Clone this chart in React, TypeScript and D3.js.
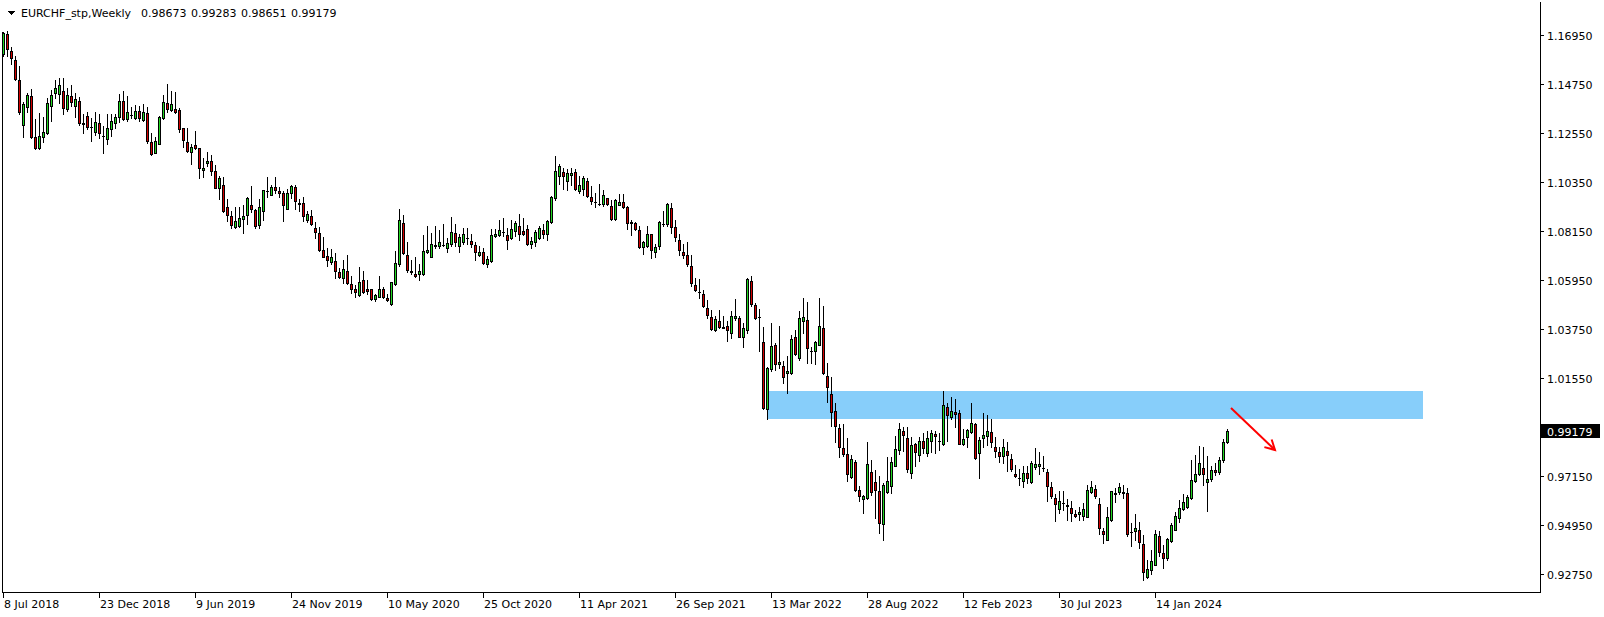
import React from 'react';
import * as d3 from 'd3';

const openP = [
1.1609,1.1699,1.1624,1.1584,1.1494,1.1291,1.1374,1.1422,1.1236,1.1186,
1.1236,1.1254,1.1375,1.1434,1.1429,1.1444,1.1362,1.1422,1.1378,1.1398,
1.1300,1.1330,1.1282,1.1258,1.1299,1.1242,1.1227,1.1272,1.1299,1.1327,
1.1398,1.1317,1.1335,1.1324,1.1353,1.1314,1.1344,1.1213,1.1167,1.1207,
1.1321,1.1389,1.1357,1.1363,1.1359,1.1276,1.1213,1.1171,1.1201,1.1186,
1.1087,1.1119,1.1129,1.1084,1.1009,1.1020,1.0921,1.0885,1.0832,1.0838,
1.0870,1.0886,1.0930,1.0909,1.0844,1.0907,1.0993,1.0979,1.1011,1.0997,
1.0984,1.0916,1.0988,1.1011,1.0939,1.0941,1.0864,1.0884,1.0830,1.0806,
1.0729,1.0702,1.0675,1.0680,1.0632,1.0606,1.0635,1.0576,1.0555,1.0527,
1.0594,1.0554,1.0554,1.0512,1.0521,1.0554,1.0514,1.0486,1.0579,1.0666,
1.0851,1.0708,1.0638,1.0623,1.0621,1.0621,1.0722,1.0701,1.0753,1.0746,
1.0754,1.0738,1.0755,1.0806,1.0750,1.0765,1.0782,1.0770,1.0753,1.0710,
1.0720,1.0669,1.0683,1.0795,1.0798,1.0810,1.0798,1.0783,1.0816,1.0839,
1.0816,1.0824,1.0755,1.0765,1.0786,1.0821,1.0801,1.0854,1.0963,1.1061,
1.1080,1.1041,1.1065,1.1080,1.0996,1.1004,1.1041,1.0967,1.0946,1.0938,
1.0935,1.0962,1.0927,1.0870,1.0933,1.0947,1.0924,1.0855,1.0852,1.0822,
1.0744,1.0750,1.0800,1.0722,1.0747,1.0846,1.0848,1.0917,1.0834,1.0773,
1.0723,1.0709,1.0660,1.0575,1.0541,1.0533,1.0470,1.0428,1.0372,1.0413,
1.0383,1.0390,1.0360,1.0423,1.0425,1.0339,1.0372,1.0593,1.0485,1.0430,
1.0318,1.0015,1.0195,1.0305,1.0218,1.0209,1.0177,1.0177,1.0342,1.0245,
1.0413,1.0417,1.0278,1.0275,1.0303,1.0381,1.0164,1.0083,1.0008,0.9931,
0.9841,0.9817,0.9712,0.9777,0.9652,0.9615,0.9619,0.9732,0.9687,0.9648,
0.9502,0.9645,0.9670,0.9763,0.9832,0.9919,0.9886,0.9728,0.9859,0.9809,
0.9874,0.9818,0.9874,0.9905,0.9875,0.9860,1.0024,0.9982,1.0004,0.9998,
0.9858,0.9890,0.9913,0.9949,0.9818,0.9886,0.9896,0.9913,0.9844,0.9823,
0.9806,0.9830,0.9791,0.9725,0.9707,0.9694,0.9728,0.9688,0.9758,0.9761,
0.9751,0.9733,0.9665,0.9616,0.9566,0.9597,0.9587,0.9571,0.9545,0.9544,
0.9538,0.9533,0.9646,0.9658,0.9589,0.9469,0.9431,0.9517,0.9634,0.9643,
0.9644,0.9638,0.9465,0.9470,0.9476,0.9409,0.9263,0.9293,0.9317,0.9446,
0.9370,0.9346,0.9425,0.9476,0.9526,0.9566,0.9575,0.9616,0.9692,0.9724,
0.9751,0.9691,0.9703,0.9742,0.9735,0.9790,0.98673
];

const highP = [
1.1708,1.1711,1.1639,1.1599,1.1557,1.1396,1.1434,1.1453,1.1317,1.1344,
1.1327,1.1411,1.1449,1.1494,1.1501,1.1501,1.1456,1.1471,1.1434,1.1419,
1.1339,1.1351,1.1321,1.1348,1.1339,1.1287,1.1339,1.1339,1.1339,1.1429,
1.1444,1.1422,1.1372,1.1380,1.1378,1.1386,1.1374,1.1254,1.1236,1.1333,
1.1425,1.1474,1.1444,1.1438,1.1368,1.1279,1.1279,1.1207,1.1264,1.1187,
1.1141,1.1168,1.1156,1.1111,1.1063,1.1060,1.0958,1.0904,1.0924,1.0924,
1.0931,1.0970,1.1017,1.0916,1.0961,1.1000,1.1056,1.1024,1.1056,1.1011,
1.0993,1.1006,1.1023,1.1023,1.0961,1.0967,1.0903,1.0908,1.0858,1.0833,
1.0788,1.0738,1.0733,1.0716,1.0651,1.0686,1.0708,1.0614,1.0572,1.0654,
1.0636,1.0596,1.0555,1.0533,1.0614,1.0566,1.0531,1.0588,1.0726,1.0915,
1.0887,1.0768,1.0684,1.0699,1.0666,1.0798,1.0839,1.0806,1.0839,1.0821,
1.0846,1.0783,1.0879,1.0849,1.0801,1.0828,1.0827,1.0801,1.0768,1.0746,
1.0741,1.0704,1.0825,1.0825,1.0866,1.0876,1.0828,1.0866,1.0861,1.0893,
1.0873,1.0843,1.0789,1.0821,1.0836,1.0846,1.0866,1.0971,1.1154,1.1116,
1.1098,1.1094,1.1098,1.1095,1.1064,1.1061,1.1052,1.1016,1.0986,1.1026,
1.0998,1.0965,1.0953,1.0957,1.0980,1.0980,1.0927,1.0864,1.0857,1.0837,
1.0770,1.0840,1.0802,1.0755,1.0860,1.0903,1.0939,1.0939,1.0867,1.0800,
1.0755,1.0767,1.0707,1.0605,1.0600,1.0552,1.0507,1.0459,1.0432,1.0459,
1.0432,1.0410,1.0455,1.0512,1.0432,1.0402,1.0605,1.0615,1.0492,1.0467,
1.0384,1.0207,1.0402,1.0312,1.0387,1.0230,1.0255,1.0347,1.0372,1.0455,
1.0515,1.0497,1.0297,1.0320,1.0515,1.0480,1.0222,1.0162,1.0045,0.9948,
0.9948,0.9885,0.9810,0.9787,0.9670,0.9630,0.9867,0.9787,0.9745,0.9717,
0.9685,0.9802,0.9802,0.9897,0.9955,0.9938,0.9935,0.9893,0.9866,0.9893,
0.9911,0.9919,0.9923,0.9919,0.9911,1.0099,1.0043,1.0070,1.0061,1.0013,
0.9926,0.9928,1.0043,0.9953,0.9893,0.9998,0.9988,0.9971,0.9890,0.9845,
0.9883,0.9868,0.9815,0.9766,0.9746,0.9761,0.9761,0.9784,0.9841,0.9824,
0.9806,0.9748,0.9688,0.9634,0.9649,0.9649,0.9611,0.9605,0.9563,0.9575,
0.9596,0.9676,0.9694,0.9674,0.9616,0.9481,0.9575,0.9650,0.9661,0.9683,
0.9676,0.9661,0.9503,0.9544,0.9511,0.9451,0.9341,0.9383,0.9473,0.9469,
0.9406,0.9440,0.9503,0.9556,0.9608,0.9634,0.9631,0.9788,0.9811,0.9851,
0.9845,0.9806,0.9760,0.9775,0.9800,0.9880,0.99283
];

const lowP = [
1.1603,1.1599,1.1564,1.1494,1.1339,1.1239,1.1351,1.1234,1.1183,1.1182,
1.1216,1.1249,1.1311,1.1414,1.1389,1.1339,1.1356,1.1377,1.1329,1.1291,
1.1257,1.1275,1.1221,1.1246,1.1234,1.1167,1.1206,1.1242,1.1276,1.1306,
1.1314,1.1309,1.1324,1.1317,1.1309,1.1309,1.1209,1.1157,1.1164,1.1204,
1.1320,1.1348,1.1354,1.1344,1.1261,1.1194,1.1168,1.1117,1.1183,1.1054,
1.1058,1.1107,1.1066,1.1008,1.0960,1.0901,1.0859,1.0831,1.0831,1.0834,
1.0806,1.0846,1.0901,1.0831,1.0831,1.0865,1.0969,1.0976,1.0987,1.0969,
1.0861,1.0914,1.0964,1.0914,1.0904,1.0861,1.0855,1.0843,1.0782,1.0726,
1.0698,1.0660,1.0668,1.0606,1.0603,1.0584,1.0576,1.0536,1.0521,1.0525,
1.0537,1.0533,1.0504,1.0503,1.0518,1.0513,1.0501,1.0483,1.0575,1.0660,
1.0714,1.0633,1.0623,1.0611,1.0596,1.0618,1.0718,1.0699,1.0738,1.0740,
1.0746,1.0723,1.0746,1.0746,1.0723,1.0759,1.0759,1.0744,1.0686,1.0704,
1.0669,1.0656,1.0678,1.0788,1.0791,1.0791,1.0734,1.0779,1.0795,1.0776,
1.0798,1.0753,1.0738,1.0746,1.0780,1.0783,1.0777,1.0851,1.0953,1.1028,
1.1004,1.1001,1.1022,1.1001,1.0986,1.0975,1.0969,1.0936,1.0923,1.0930,
1.0929,1.0930,1.0867,1.0867,1.0930,1.0920,1.0825,1.0798,1.0819,1.0740,
1.0713,1.0743,1.0695,1.0698,1.0735,1.0837,1.0840,1.0806,1.0770,1.0707,
1.0695,1.0657,1.0567,1.0545,1.0515,1.0474,1.0425,1.0372,1.0369,1.0380,
1.0379,1.0324,1.0335,1.0417,1.0338,1.0297,1.0360,1.0481,1.0422,1.0279,
1.0017,0.9970,1.0189,1.0192,1.0200,1.0132,1.0087,1.0174,1.0257,1.0237,
1.0360,1.0225,1.0225,1.0218,1.0302,1.0174,1.0050,0.9942,0.9867,0.9802,
0.9807,0.9694,0.9709,0.9649,0.9603,0.9550,0.9615,0.9633,0.9528,0.9462,
0.9430,0.9642,0.9640,0.9759,0.9817,0.9829,0.9736,0.9706,0.9763,0.9785,
0.9818,0.9806,0.9823,0.9821,0.9833,0.9856,0.9874,0.9971,0.9935,0.9858,
0.9856,0.9848,0.9908,0.9793,0.9706,0.9845,0.9856,0.9848,0.9800,0.9781,
0.9773,0.9740,0.9740,0.9713,0.9676,0.9668,0.9683,0.9686,0.9749,0.9725,
0.9740,0.9605,0.9616,0.9515,0.9551,0.9563,0.9518,0.9515,0.9533,0.9518,
0.9518,0.9532,0.9641,0.9616,0.9455,0.9416,0.9428,0.9515,0.9598,0.9634,
0.9619,0.9448,0.9403,0.9428,0.9395,0.9251,0.9260,0.9275,0.9316,0.9356,
0.9305,0.9341,0.9419,0.9473,0.9511,0.9563,0.9571,0.9613,0.9689,0.9721,
0.9676,0.9560,0.9695,0.9720,0.9725,0.9780,0.98651
];

const closeP = [
1.1704,1.1633,1.1591,1.1497,1.1351,1.1384,1.1426,1.1239,1.1189,1.1242,
1.1258,1.1389,1.1425,1.1456,1.1470,1.1366,1.1425,1.1393,1.1407,1.1299,
1.1297,1.1281,1.1280,1.1306,1.1254,1.1241,1.1276,1.1309,1.1326,1.1398,
1.1320,1.1348,1.1336,1.1354,1.1321,1.1348,1.1221,1.1159,1.1219,1.1327,
1.1395,1.1362,1.1386,1.1350,1.1275,1.1222,1.1173,1.1192,1.1189,1.1096,
1.1097,1.1129,1.1085,1.1009,1.1053,1.0907,1.0888,1.0844,1.0859,1.0876,
1.0885,1.0963,1.0915,1.0837,1.0925,1.0999,1.0994,1.1015,1.0999,1.0987,
1.0934,1.0984,1.1017,1.0949,1.0937,1.0881,1.0891,1.0849,1.0813,1.0728,
1.0701,1.0687,1.0698,1.0635,1.0611,1.0645,1.0581,1.0555,1.0540,1.0587,
1.0542,1.0548,1.0510,1.0528,1.0554,1.0521,1.0508,1.0587,1.0672,1.0866,
1.0719,1.0641,1.0633,1.0615,1.0635,1.0726,1.0731,1.0758,1.0746,1.0765,
1.0752,1.0761,1.0810,1.0764,1.0789,1.0803,1.0783,1.0759,1.0720,1.0722,
1.0674,1.0690,1.0798,1.0803,1.0819,1.0811,1.0774,1.0824,1.0851,1.0803,
1.0804,1.0759,1.0770,1.0810,1.0831,1.0804,1.0860,1.0967,1.1086,1.1109,
1.1061,1.1077,1.1077,1.1004,1.1023,1.1053,1.0972,1.0948,1.0944,1.0936,
1.0975,1.0938,1.0870,1.0953,1.0944,1.0923,1.0852,1.0853,1.0825,1.0744,
1.0765,1.0800,1.0729,1.0744,1.0857,1.0845,1.0935,1.0834,1.0789,1.0729,
1.0708,1.0668,1.0582,1.0551,1.0540,1.0477,1.0437,1.0375,1.0420,1.0384,
1.0382,1.0372,1.0435,1.0435,1.0342,1.0380,1.0600,1.0488,1.0425,1.0428,
1.0023,1.0200,1.0300,1.0218,1.0228,1.0159,1.0186,1.0330,1.0264,1.0426,
1.0431,1.0290,1.0276,1.0318,1.0390,1.0177,1.0114,1.0005,0.9942,0.9844,
0.9817,0.9727,0.9793,0.9652,0.9627,0.9625,0.9768,0.9645,0.9655,0.9505,
0.9675,0.9693,0.9777,0.9837,0.9927,0.9898,0.9746,0.9854,0.9826,0.9872,
0.9841,0.9886,0.9908,0.9895,0.9874,1.0034,0.9989,1.0007,0.9994,0.9860,
0.9881,0.9922,0.9953,0.9799,0.9877,0.9899,0.9917,0.9868,0.9827,0.9805,
0.9848,0.9812,0.9746,0.9718,0.9706,0.9728,0.9706,0.9776,0.9769,0.9769,
0.9750,0.9673,0.9628,0.9589,0.9602,0.9596,0.9583,0.9548,0.9538,0.9553,
0.9566,0.9652,0.9665,0.9628,0.9481,0.9454,0.9530,0.9647,0.9640,0.9665,
0.9642,0.9458,0.9464,0.9481,0.9421,0.9286,0.9301,0.9335,0.9458,0.9376,
0.9350,0.9433,0.9496,0.9536,0.9572,0.9599,0.9623,0.9698,0.9725,0.9773,
0.9725,0.9703,0.9742,0.9735,0.9790,0.9867,0.99179
];

// price scale labels (0.99350 sits under the current-price box, only its tick shows)
const priceTicks = [1.1695, 1.1475, 1.1255, 1.1035, 1.0815, 1.0595, 1.0375, 1.0155, 0.9935, 0.9715, 0.9495, 0.9275];
const hiddenTick = 0.9935;
const timeLabels = ["8 Jul 2018", "23 Dec 2018", "9 Jun 2019", "24 Nov 2019", "10 May 2020", "25 Oct 2020", "11 Apr 2021", "26 Sep 2021", "13 Mar 2022", "28 Aug 2022", "12 Feb 2023", "30 Jul 2023", "14 Jan 2024"];
const timeLabelBars = [0, 24, 48, 72, 96, 120, 144, 168, 192, 216, 240, 264, 288];

const symbolTitle = "EURCHF_stp,Weekly";
const headerValues = ["0.98673", "0.99283", "0.98651", "0.99179"];
const lastPrice = 0.99179;

// supply zone (rectangle) and arrow
const zoneBars = [191, 355];
const zonePrices = [1.0098, 0.9973];
const arrowBars = [307, 318];
const arrowPrices = [1.0021, 0.9833];

const W = 1604, H = 617;
const FONT = '"DejaVu Sans", Verdana, sans-serif';
const GREEN = '#22d622';
const RED = '#d20000';

export default function App() {
  const x = d3.scaleLinear().domain([0, 1]).range([3, 7]);
  const y = d3.scaleLinear().domain([0.9275, 1.1695]).range([574.3, 35]);
  const n = Math.min(openP.length, highP.length, lowP.length, closeP.length);

  const candles = [];
  for (let i = 0; i < n; i++) {
    const cx = Math.round(x(i));
    const yH = Math.round(y(highP[i]));
    const yL = Math.round(y(lowP[i]));
    const yO = Math.round(y(openP[i]));
    const yC = Math.round(y(closeP[i]));
    const top = Math.min(yO, yC), bot = Math.max(yO, yC);
    const up = closeP[i] >= openP[i];
    candles.push(
      <g key={i}>
        <line x1={cx + 0.5} x2={cx + 0.5} y1={yH} y2={yL + 1} stroke="#000" strokeWidth={1} />
        {bot - top < 1 ? (
          <line x1={cx - 1} x2={cx + 2} y1={top + 0.5} y2={top + 0.5} stroke="#000" strokeWidth={1} />
        ) : (
          <rect x={cx - 0.5} y={top + 0.5} width={2} height={bot - top} fill={up ? GREEN : RED} stroke="#000" strokeWidth={1} />
        )}
      </g>
    );
  }

  const zx0 = Math.round(x(zoneBars[0]));
  const zx1 = Math.round(x(zoneBars[1]));
  const zy0 = Math.round(y(zonePrices[0]));
  const zy1 = Math.round(y(zonePrices[1]));

  const ax0 = x(arrowBars[0]), ay0 = y(arrowPrices[0]);
  const ax1 = x(arrowBars[1]), ay1 = y(arrowPrices[1]);
  const ang = Math.atan2(ay1 - ay0, ax1 - ax0);
  const hl = 11;
  const h1 = [ax1 - hl * Math.cos(ang - 0.5), ay1 - hl * Math.sin(ang - 0.5)];
  const h2 = [ax1 - hl * Math.cos(ang + 0.5), ay1 - hl * Math.sin(ang + 0.5)];

  const frameRight = 1540.5;
  const frameBottom = 592.5;
  const lpY = Math.round(y(lastPrice));

  return (
    <svg width={W} height={H} style={{ position: 'absolute', left: 0, top: 0, background: '#fff' }}
      fontFamily={FONT} fontSize={11} shapeRendering="crispEdges">
      <rect x={0} y={0} width={W} height={H} fill="#fff" />
      <rect x={zx0} y={zy0} width={zx1 - zx0} height={zy1 - zy0} fill="#87cefa" />
      {candles}
      <g stroke="#ff0000" strokeWidth={2} shapeRendering="auto" fill="none">
        <line x1={ax0} y1={ay0} x2={ax1} y2={ay1} />
        <polyline points={`${h1[0]},${h1[1]} ${ax1},${ay1} ${h2[0]},${h2[1]}`} />
      </g>
      <line x1={2.5} x2={2.5} y1={32} y2={frameBottom + 0.5} stroke="#000" />
      <line x1={frameRight} x2={frameRight} y1={2} y2={frameBottom + 0.5} stroke="#000" />
      <line x1={2} x2={frameRight + 0.5} y1={frameBottom} y2={frameBottom} stroke="#000" />
      {priceTicks.map((p, k) => {
        const ty = Math.round(y(p));
        return (
          <g key={'p' + k}>
            <line x1={1541} x2={1544} y1={ty + 0.5} y2={ty + 0.5} stroke="#000" />
            {p !== hiddenTick && <text x={1547} y={ty + 4.5} fill="#000">{p.toFixed(5)}</text>}
          </g>
        );
      })}
      <rect x={1541} y={lpY - 7} width={59} height={14} fill="#000" />
      <text x={1547} y={lpY + 4.5} fill="#fff">{lastPrice.toFixed(5)}</text>
      {timeLabels.map((t, k) => {
        const tx = Math.round(x(timeLabelBars[k]));
        return (
          <g key={'t' + k}>
            <line x1={tx + 0.5} x2={tx + 0.5} y1={frameBottom} y2={frameBottom + 5} stroke="#000" />
            <text x={tx + 1} y={608} fill="#000">{t}</text>
          </g>
        );
      })}
      <path d="M7,11 L15,11 L11,15 Z" fill="#000" />
      <text x={21} y={17} fill="#000">{symbolTitle}</text>
      {headerValues.map((v, k) => (
        <text key={'h' + k} x={141 + 50 * k} y={17} fill="#000">{v}</text>
      ))}
    </svg>
  );
}
